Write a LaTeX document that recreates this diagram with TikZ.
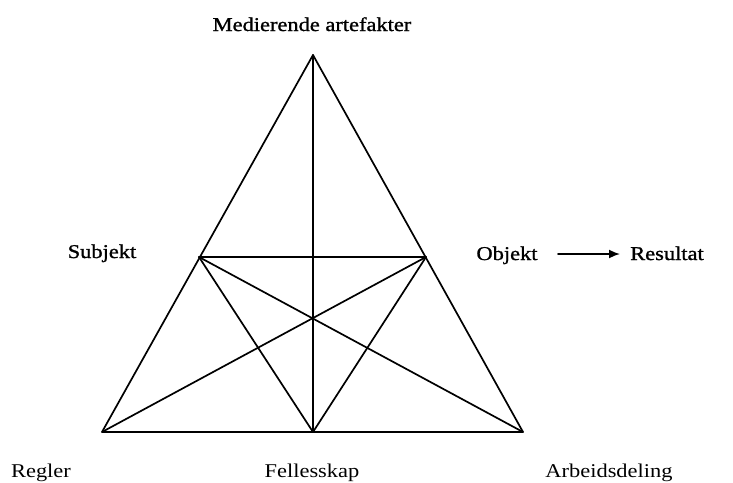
\documentclass[tikz,border=0pt]{standalone}
\usepackage{fontspec}
\setmainfont{Liberation Serif}[FakeStretch=1.15]
\newfontfamily\boldish{Liberation Serif}[FakeStretch=1.15,FakeBold=1.2]
\usetikzlibrary{arrows.meta}
\begin{document}
\begin{tikzpicture}[x=1pt,y=-1pt,
  edge/.style={line width=1.7pt, line cap=round, line join=round},
  lbl/.style={anchor=base, inner sep=0pt, font=\fontsize{19.5}{22}\selectfont},
  lblb/.style={anchor=base, inner sep=0pt, font=\fontsize{19.5}{22}\selectfont\boldish}]
\useasboundingbox (0,0) rectangle (733,482);
\coordinate (A) at (313,55);
\coordinate (S) at (199,257);
\coordinate (O) at (426,257);
\coordinate (L) at (102,432);
\coordinate (M) at (313,432);
\coordinate (R) at (523,432);
\draw[edge] (L) -- (A) -- (R) -- cycle;
\draw[edge] (A) -- (M);
\draw[edge] (S) -- (O);
\draw[edge] (S) -- (M) -- (O);
\draw[edge] (S) -- (R);
\draw[edge] (O) -- (L);
\node[lblb] (med) at (312,31) {Medierende artefakter};
\node[lblb] (sub) at (102,258) {Subjekt};
\node[lblb] (obj) at (507,260) {Objekt};
\node[lblb] (res) at (667,260) {Resultat};
\node[lbl] (reg) at (41,477) {Regler};
\node[lbl] (fel) at (312,477) {Fellesskap};
\node[lbl] (arb) at (609,477) {Arbeidsdeling};
\coordinate (a1) at (558,254);
\coordinate (a2) at (620,254);
\draw[edge, -{Latex[length=11pt,width=9pt]}] (a1) -- (a2);
\end{tikzpicture}
\end{document}
